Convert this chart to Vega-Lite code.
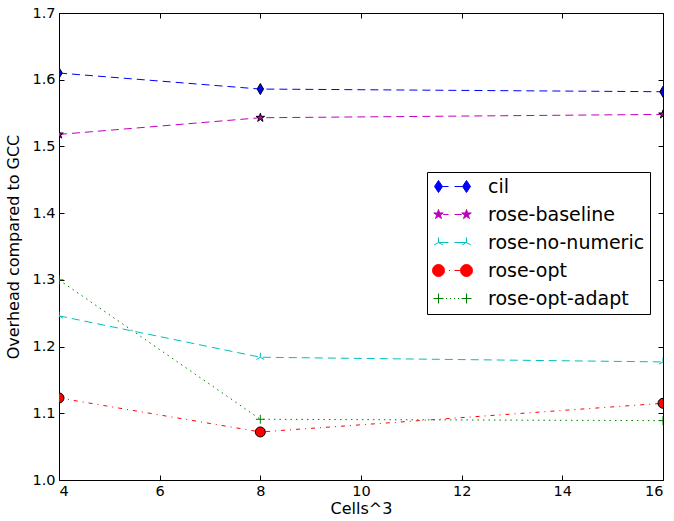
{
  "$schema": "https://vega.github.io/schema/vega-lite/v6.json",
  "autosize": "none",
  "padding": {"left": 59, "top": 13, "right": 11, "bottom": 41},
  "width": 604,
  "height": 467,
  "background": "white",
  "config": {
    "font": "DejaVu Sans",
    "view": {"stroke": "black", "strokeWidth": 1},
    "axis": {"grid": false, "domain": false, "tickColor": "black", "tickSize": -5, "labelColor": "black", "labelFontSize": 14.5, "labelFont": "DejaVu Sans", "titleFont": "DejaVu Sans", "titleFontSize": 16, "titleFontWeight": "normal", "titleColor": "black"},
    "legend": {"orient": "none", "legendX": 368, "legendY": 159, "strokeColor": "black", "fillColor": "white", "padding": 5, "labelFontSize": 19, "labelFont": "DejaVu Sans", "labelColor": "black", "rowPadding": 8, "symbolOffset": 11, "labelOffset": 26, "cornerRadius": 0}
  },
  "data": {"values": [
    {"cells": 4, "overhead": 1.610, "series": "cil"},
    {"cells": 8, "overhead": 1.586, "series": "cil"},
    {"cells": 16, "overhead": 1.582, "series": "cil"},
    {"cells": 4, "overhead": 1.518, "series": "rose-baseline"},
    {"cells": 8, "overhead": 1.543, "series": "rose-baseline"},
    {"cells": 16, "overhead": 1.548, "series": "rose-baseline"},
    {"cells": 4, "overhead": 1.246, "series": "rose-no-numeric"},
    {"cells": 8, "overhead": 1.184, "series": "rose-no-numeric"},
    {"cells": 16, "overhead": 1.177, "series": "rose-no-numeric"},
    {"cells": 4, "overhead": 1.123, "series": "rose-opt"},
    {"cells": 8, "overhead": 1.072, "series": "rose-opt"},
    {"cells": 16, "overhead": 1.115, "series": "rose-opt"},
    {"cells": 4, "overhead": 1.300, "series": "rose-opt-adapt"},
    {"cells": 8, "overhead": 1.091, "series": "rose-opt-adapt"},
    {"cells": 16, "overhead": 1.089, "series": "rose-opt-adapt"}
  ]},
  "layer": [
    {
      "mark": {"type": "line", "strokeWidth": 1, "clip": true},
      "encoding": {
        "x": {"field": "cells", "type": "quantitative", "scale": {"domain": [4, 16], "nice": false, "zero": false}, "axis": {"values": [4, 6, 8, 10, 12, 14, 16], "title": "Cells^3", "labelPadding": 9, "titlePadding": 3}},
        "y": {"field": "overhead", "type": "quantitative", "scale": {"domain": [1.0, 1.7], "nice": false, "zero": false}, "axis": {"values": [1.0, 1.1, 1.2, 1.3, 1.4, 1.5, 1.6, 1.7], "format": ".1f", "title": "Overhead compared to GCC", "labelPadding": 9, "titlePadding": 10}},
        "color": {"field": "series", "type": "nominal", "scale": {"domain": ["cil", "rose-baseline", "rose-no-numeric", "rose-opt", "rose-opt-adapt"], "range": ["#0000ff", "#bf00bf", "#00bfbf", "#ff0000", "#008000"]}, "legend": {"title": null, "encode": {"symbols": {"update": {
          "size": {"value": 100},
          "strokeWidth": {"value": 1},
          "stroke": {"signal": "scale('color', datum.value)"},
          "fill": {"signal": "scale('color', datum.value)"},
          "shape": {"signal": "datum.value === 'cil' ? 'M-2.8,-1.2L-2,0L-2.8,1.2L-3.6,0ZM2.8,-1.2L3.6,0L2.8,1.2L2,0ZM-2,0L-0.8,0M0.4,0L2,0' : datum.value === 'rose-baseline' ? 'M-2.8,-1L-2.58,-0.31L-1.85,-0.31L-2.44,0.12L-2.21,0.81L-2.8,0.38L-3.39,0.81L-3.16,0.12L-3.75,-0.31L-3.02,-0.31ZM2.8,-1L3.02,-0.31L3.75,-0.31L3.16,0.12L3.39,0.81L2.8,0.38L2.21,0.81L2.44,0.12L1.85,-0.31L2.58,-0.31ZM-1.85,0L-0.8,0M0.4,0L1.85,0' : datum.value === 'rose-no-numeric' ? 'M-2.8,0L-2.8,-1M-2.8,0L-1.93,0.5M-2.8,0L-3.67,0.5M2.8,0L2.8,-1M2.8,0L3.67,0.5M2.8,0L1.93,0.5M-2.8,0L-0.8,0M0.4,0L2.8,0' : datum.value === 'rose-opt' ? 'M-4,0A1.2,1.2,0,1,0,-1.6,0A1.2,1.2,0,1,0,-4,0ZM1.6,0A1.2,1.2,0,1,0,4,0A1.2,1.2,0,1,0,1.6,0ZM-0.7,0L-0.5,0M0.4,0L1.6,0' : 'M-3.8,0L-1.8,0M-2.8,-1L-2.8,1M1.8,0L3.8,0M2.8,-1L2.8,1M-1.3,0L-1.1,0M-0.5,0L-0.3,0M0.3,0L0.5,0M1.1,0L1.3,0'"}
        }}}}},
        "strokeDash": {"field": "series", "type": "nominal", "scale": {"domain": ["cil", "rose-baseline", "rose-no-numeric", "rose-opt", "rose-opt-adapt"], "range": [[8, 5], [8, 5], [8, 5], [4, 5, 1, 5], [1.5, 4]]}, "legend": null}
      }
    },
    {
      "mark": {"type": "point", "filled": true, "strokeWidth": 1, "opacity": 1, "size": 100, "clip": true},
      "encoding": {
        "x": {"field": "cells", "type": "quantitative", "axis": {"orient": "top", "values": [4, 6, 8, 10, 12, 14, 16], "labels": false, "title": null}},
        "y": {"field": "overhead", "type": "quantitative", "axis": {"orient": "right", "values": [1.0, 1.1, 1.2, 1.3, 1.4, 1.5, 1.6, 1.7], "labels": false, "title": null}},
        "color": {"field": "series", "type": "nominal", "legend": null},
        "stroke": {"field": "series", "type": "nominal", "scale": {"domain": ["cil", "rose-baseline", "rose-no-numeric", "rose-opt", "rose-opt-adapt"], "range": ["#000000", "#000000", "#00bfbf", "#000000", "#008000"]}, "legend": null},
        "shape": {"field": "series", "type": "nominal", "scale": {"domain": ["cil", "rose-baseline", "rose-no-numeric", "rose-opt", "rose-opt-adapt"], "range": ["M0,-1.1L0.65,0L0,1.1L-0.65,0Z", "M0,-0.9L0.2,-0.28L0.86,-0.28L0.32,0.11L0.53,0.73L0,0.34L-0.53,0.73L-0.32,0.11L-0.86,-0.28L-0.2,-0.28Z", "M0,0L0,-0.9M0,0L0.78,0.45M0,0L-0.78,0.45", "circle", "M-0.9,0L0.9,0M0,-0.9L0,0.9"]}, "legend": null}
      }
    }
  ],
  "resolve": {"axis": {"x": "independent", "y": "independent"}, "legend": {"shape": "independent", "stroke": "independent", "color": "independent"}}
}
